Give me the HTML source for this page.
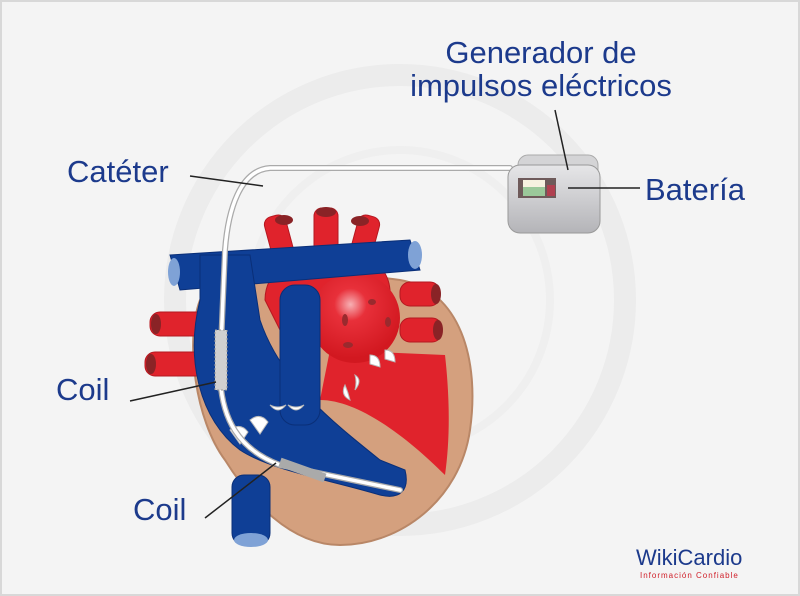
<!DOCTYPE html>
<html><head><meta charset="utf-8"><style>
html,body{margin:0;padding:0;background:#fff}
svg{display:block}
text{font-family:"Liberation Sans",sans-serif}
</style></head><body>
<svg width="800" height="596" viewBox="0 0 800 596" xmlns="http://www.w3.org/2000/svg">
<defs>
<radialGradient id="la" cx="0.45" cy="0.35" r="0.6"><stop offset="0" stop-color="#f7b0b4"/><stop offset="0.3" stop-color="#e8303a"/><stop offset="1" stop-color="#d21820"/></radialGradient>
<linearGradient id="gen" x1="0" y1="0" x2="0" y2="1"><stop offset="0" stop-color="#e6e6e8"/><stop offset="1" stop-color="#b4b4b8"/></linearGradient>
</defs>
<rect width="800" height="596" fill="#f4f4f4"/>
<rect x="1" y="1" width="798" height="594" fill="none" stroke="#d8d8d8" stroke-width="2"/>
<circle cx="400" cy="300" r="225" fill="none" stroke="#ececec" stroke-width="22"/>
<circle cx="400" cy="300" r="150" fill="none" stroke="#efefef" stroke-width="8"/>
<path d="M200 300 C230 270 330 270 400 280 C460 290 480 360 470 430 C460 500 400 545 340 545 C290 545 250 500 225 460 C195 420 185 340 200 300Z" fill="#d4a07e" stroke="#b98767" stroke-width="2"/>
<g fill="#e0232c" stroke="#b51820" stroke-width="1">
<rect x="270" y="215" width="22" height="60" rx="8" transform="rotate(-15 281 245)"/>
<rect x="314" y="208" width="24" height="60" rx="8"/>
<rect x="352" y="215" width="22" height="60" rx="8" transform="rotate(15 363 245)"/>
<path d="M265 300 C265 240 385 230 390 290 L380 330 L280 330Z"/>
<rect x="150" y="312" width="70" height="24" rx="10"/>
<rect x="145" y="352" width="70" height="24" rx="10"/>
<rect x="400" y="282" width="40" height="24" rx="10"/>
<rect x="400" y="318" width="42" height="24" rx="10"/>
</g>
<g fill="#8a2326"><ellipse cx="284" cy="220" rx="9" ry="5"/><ellipse cx="326" cy="212" rx="10" ry="5"/><ellipse cx="360" cy="221" rx="9" ry="5"/>
<ellipse cx="156" cy="324" rx="5" ry="10"/><ellipse cx="151" cy="364" rx="5" ry="10"/><ellipse cx="436" cy="294" rx="5" ry="10"/><ellipse cx="438" cy="330" rx="5" ry="10"/></g>
<path d="M330 350 L445 355 C450 400 450 440 445 475 C410 440 360 400 320 400Z" fill="#e0232c"/>
<circle cx="355" cy="318" r="45" fill="url(#la)"/>
<g fill="#9a2a2e"><ellipse cx="345" cy="320" rx="3" ry="6"/><ellipse cx="372" cy="302" rx="4" ry="3"/><ellipse cx="388" cy="322" rx="3" ry="5"/><ellipse cx="348" cy="345" rx="5" ry="3"/></g>
<g fill="#0f3f96" stroke="#0a2f78" stroke-width="1">
<path d="M170 255 L410 240 L420 270 L180 290Z"/>
<path d="M200 255 L250 255 L260 320 C280 380 330 420 380 460 L405 470 C410 490 400 500 380 495 C330 480 270 470 240 450 C200 420 185 360 200 300Z"/>
<rect x="280" y="285" width="40" height="140" rx="15"/>
<rect x="232" y="475" width="38" height="70" rx="12"/>
</g>
<ellipse cx="415" cy="255" rx="7" ry="14" fill="#7fa2d6"/>
<ellipse cx="174" cy="272" rx="6" ry="14" fill="#7fa2d6"/>
<ellipse cx="251" cy="540" rx="17" ry="7" fill="#7fa2d6"/>
<g fill="#fff" stroke="#bbb" stroke-width="1">
<path d="M270 405 q8 10 16 0 q-8 4 -16 0Z"/><path d="M288 405 q8 10 16 0 q-8 4 -16 0Z"/>
<path d="M345 385 q-5 10 5 15 q-2 -8 -5 -15Z"/><path d="M355 375 q8 5 0 15 q2 -8 0 -15Z"/>
<path d="M370 355 q10 0 10 12 l-10 -3Z"/><path d="M385 350 q10 0 10 12 l-10 -3Z"/>
<path d="M230 430 q10 -8 18 2 l-8 12Z"/><path d="M250 420 q10 -8 18 2 l-8 12Z"/>
</g>
<path d="M510 168 L270 168 C240 170 228 210 225 250 L220 370 C220 420 240 450 280 465 L400 490" fill="none" stroke="#aaa" stroke-width="6" stroke-linecap="round"/>
<path d="M510 168 L270 168 C240 170 228 210 225 250 L220 370 C220 420 240 450 280 465 L400 490" fill="none" stroke="#fff" stroke-width="3.5" stroke-linecap="round"/>
<rect x="215" y="330" width="12" height="60" fill="#d0d0d0" stroke="#999" stroke-dasharray="2 2"/>
<path d="M280 462 L325 478" stroke="#aaa" stroke-width="9"/>
<rect x="518" y="155" width="80" height="60" rx="10" fill="#d4d4d6" stroke="#aaa"/>
<rect x="508" y="165" width="92" height="68" rx="12" fill="url(#gen)" stroke="#999"/>
<rect x="518" y="178" width="38" height="20" fill="#6e5a5a"/>
<rect x="523" y="180" width="22" height="7" fill="#f6f1e0"/>
<rect x="523" y="187" width="22" height="9" fill="#9bc89a"/>
<rect x="547" y="185" width="8" height="11" fill="#b04050"/>
<g stroke="#222" stroke-width="1.5" fill="none">
<line x1="190" y1="176" x2="263" y2="186"/>
<line x1="555" y1="110" x2="568" y2="170"/>
<line x1="640" y1="188" x2="568" y2="188"/>
<line x1="130" y1="401" x2="216" y2="382"/>
<line x1="205" y1="518" x2="276" y2="463"/>
</g>
<g fill="#1c3a8c" font-size="31">
<text x="541" y="63" text-anchor="middle">Generador de</text>
<text x="541" y="96" text-anchor="middle">impulsos eléctricos</text>
<text x="67" y="182">Catéter</text>
<text x="645" y="200">Batería</text>
<text x="56" y="400">Coil</text>
<text x="133" y="520">Coil</text>
</g>
<text x="636" y="565" font-size="22" fill="#1c3a8c">WikiCardio</text>
<text x="640" y="578" font-size="8" fill="#d0202a" letter-spacing="1">Información Confiable</text>
</svg>
</body></html>
